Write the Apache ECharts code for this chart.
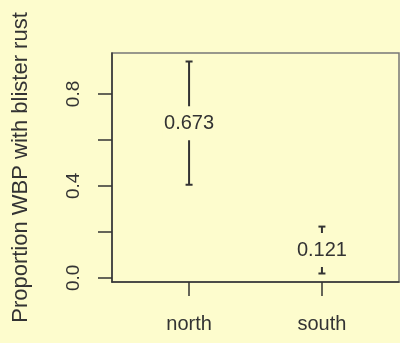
<!DOCTYPE html>
<html>
<head>
<meta charset="utf-8">
<script src="https://cdn.jsdelivr.net/npm/echarts@6/dist/echarts.min.js"></script>
<style>
  html, body { margin: 0; padding: 0; background: #fdfccd; }
  #chart { width: 400px; height: 343px; }
</style>
</head>
<body>
<div id="chart"></div>
<script>
// data
var categories = ["north", "south"];
var means = [0.673, 0.121];
var lower = [0.405, 0.019];
var upper = [0.941, 0.223];
var yTicks = [0, 0.2, 0.4, 0.6, 0.8];
var yLabels = [0, 0.4, 0.8];
var xTicks = [1, 2];

var bg = "#fdfccd";
var ink = "#333333";
var font = "'Liberation Sans', Arial, sans-serif";

var barData = categories.map(function (c, i) {
  return [i + 1, lower[i], upper[i], means[i]];
});

var myChart = echarts.init(document.getElementById("chart"));

myChart.setOption({
  backgroundColor: bg,
  animation: false,
  grid: {
    left: 112,
    right: 1,
    top: 53,
    bottom: 61,
    show: true,
    borderColor: "#777",
    borderWidth: 1.5,
    backgroundColor: "transparent"
  },
  xAxis: {
    type: "value",
    min: 0.42,
    max: 2.58,
    axisLine: { show: true, onZero: false, lineStyle: { color: ink, width: 1.5 } },
    axisTick: { show: true, customValues: xTicks, length: 14, lineStyle: { color: ink, width: 1.5 } },
    axisLabel: {
      customValues: xTicks,
      margin: 32,
      fontSize: 20,
      fontFamily: font,
      color: ink,
      formatter: function (v) {
        return categories[Math.round(v) - 1];
      }
    },
    splitLine: { show: false }
  },
  yAxis: {
    type: "value",
    min: -0.018,
    max: 0.978,
    name: "Proportion WBP with blister rust",
    nameLocation: "middle",
    nameGap: 80,
    nameRotate: 90,
    nameTextStyle: { fontSize: 22, fontFamily: font, color: ink },
    axisLine: { show: true, onZero: false, lineStyle: { color: ink, width: 1.5 } },
    axisTick: { show: true, customValues: yTicks, length: 14, lineStyle: { color: ink, width: 1.5 } },
    axisLabel: {
      customValues: yLabels,
      rotate: 90,
      margin: 29,
      fontSize: 19,
      fontFamily: font,
      color: ink,
      formatter: function (v) {
        return v.toFixed(1);
      }
    },
    splitLine: { show: false }
  },
  series: [
    {
      type: "custom",
      data: barData,
      renderItem: function (params, api) {
        var x = api.value(0);
        var lo = api.coord([x, api.value(1)]);
        var hi = api.coord([x, api.value(2)]);
        var mid = api.coord([x, api.value(3)]);
        var lineStyle = { stroke: ink, lineWidth: 2 };
        return {
          type: "group",
          children: [
            { type: "line", shape: { x1: lo[0], y1: lo[1], x2: hi[0], y2: hi[1] }, style: lineStyle },
            { type: "line", shape: { x1: hi[0] - 3.5, y1: hi[1], x2: hi[0] + 3.5, y2: hi[1] }, style: lineStyle },
            { type: "line", shape: { x1: lo[0] - 3.5, y1: lo[1], x2: lo[0] + 3.5, y2: lo[1] }, style: lineStyle },
            {
              type: "text",
              x: mid[0],
              y: mid[1],
              style: {
                text: api.value(3).toFixed(3),
                align: "center",
                verticalAlign: "middle",
                fontSize: 20,
                fontFamily: font,
                fill: ink,
                backgroundColor: bg,
                padding: [7, 2, 7, 2]
              }
            }
          ]
        };
      }
    }
  ]
});
</script>
</body>
</html>
